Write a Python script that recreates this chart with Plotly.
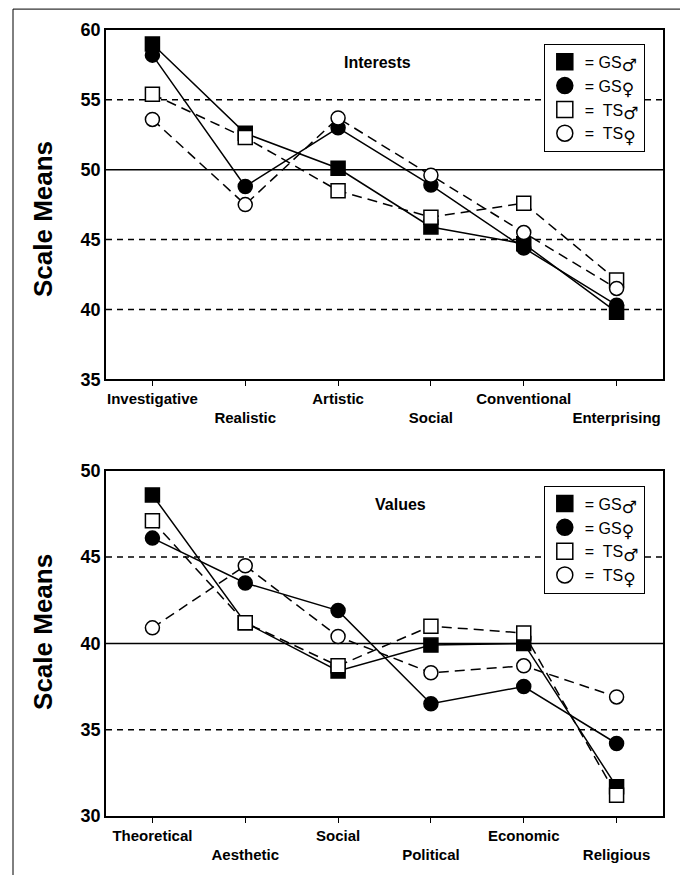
import plotly.graph_objects as go

# ---------------- data ----------------
interest_cats = ["Investigative", "Realistic", "Artistic", "Social", "Conventional", "Enterprising"]
int_gs_m = [59.0, 52.6, 50.1, 45.9, 44.7, 39.8]
int_gs_f = [58.2, 48.8, 53.0, 48.9, 44.4, 40.3]
int_ts_m = [55.4, 52.3, 48.5, 46.6, 47.6, 42.1]
int_ts_f = [53.6, 47.5, 53.7, 49.6, 45.5, 41.5]

value_cats = ["Theoretical", "Aesthetic", "Social", "Political", "Economic", "Religious"]
val_gs_m = [48.6, 41.2, 38.4, 39.9, 40.0, 31.7]
val_gs_f = [46.1, 43.5, 41.9, 36.5, 37.5, 34.2]
val_ts_m = [47.1, 41.2, 38.7, 41.0, 40.6, 31.2]
val_ts_f = [40.9, 44.5, 40.4, 38.3, 38.7, 36.9]

SYM = "<sub><span style='font-family:DejaVu Sans;font-size:17px'>{}</span></sub>"
series_names = ["= GS" + SYM.format("♂"), "= GS" + SYM.format("♀"),
                "=\u00a0 TS" + SYM.format("♂"), "=\u00a0 TS" + SYM.format("♀")]
interest_ticks = [35, 40, 45, 50, 55, 60]
value_ticks = [30, 35, 40, 45, 50]
interest_dashed = [55, 45, 40]
interest_solid = [50]
value_dashed = [45, 35]
value_solid = [40]

FONT = "Liberation Sans, Arial, Helvetica, sans-serif"

styles = [
    dict(symbol="square", fill="black", dash="solid"),
    dict(symbol="circle", fill="black", dash="solid"),
    dict(symbol="square", fill="white", dash="10px,6px"),
    dict(symbol="circle", fill="white", dash="10px,6px"),
]

fig = go.Figure()

def add_panel(cats, series, xa, ya, legend):
    for name, vals, st in zip(series_names, series, styles):
        fig.add_trace(go.Scatter(
            x=cats, y=vals, mode="lines+markers", xaxis=xa, yaxis=ya,
            line=dict(color="black", width=1.5, dash=st["dash"]),
            marker=dict(symbol=st["symbol"], size=14, color=st["fill"],
                        line=dict(color="black", width=1.5)),
            showlegend=False, cliponaxis=False,
        ))
    for name, st in zip(series_names, styles):
        fig.add_trace(go.Scatter(
            x=[None], y=[None], mode="markers", xaxis=xa, yaxis=ya, name=name,
            marker=dict(symbol=st["symbol"], size=16, color=st["fill"],
                        line=dict(color="black", width=1.5)),
            showlegend=True, legend=legend,
        ))

add_panel(interest_cats, [int_gs_m, int_gs_f, int_ts_m, int_ts_f], "x", "y", "legend")
add_panel(value_cats, [val_gs_m, val_gs_f, val_ts_m, val_ts_f], "x2", "y2", "legend2")

def ticktext(cats):
    return [c if i % 2 == 0 else "<br>" + c for i, c in enumerate(cats)]

xcommon = dict(type="category", range=[-0.5, 5.5], showline=True, linecolor="black",
               linewidth=1.5, mirror=True, ticks="outside", ticklen=5, tickcolor="black",
               tickwidth=1, showgrid=False, zeroline=False, tickangle=0,
               tickfont=dict(family=FONT, size=15, color="black", weight="bold"))
ycommon = dict(showline=True, linecolor="black", linewidth=1.5, mirror=True,
               ticks="", showgrid=False, zeroline=False,
               tickfont=dict(family=FONT, size=18, color="black", weight="bold"))

top_dom = [0.5557, 1.0]
bot_dom = [0.0, 0.4392]

# page has an 8px body margin: figure is 680x867, plot area at page (106..663, 30..820)
fig.update_layout(
    width=680, height=867,
    margin=dict(l=98, r=25, t=22, b=55),
    paper_bgcolor="white", plot_bgcolor="white",
    font=dict(family=FONT, color="black"),
    xaxis=dict(xcommon, domain=[0, 1], anchor="y", tickvals=interest_cats,
               ticktext=ticktext(interest_cats)),
    yaxis=dict(ycommon, domain=top_dom, anchor="x", range=[35, 60], tickvals=interest_ticks),
    xaxis2=dict(xcommon, domain=[0, 1], anchor="y2", tickvals=value_cats,
                ticktext=ticktext(value_cats)),
    yaxis2=dict(ycommon, domain=bot_dom, anchor="x2", range=[30, 50], tickvals=value_ticks),
    legend=dict(x=0.786, y=0.9823, xanchor="left", yanchor="top", bgcolor="white",
                bordercolor="black", borderwidth=1,
                font=dict(family=FONT, size=16, color="black"), tracegroupgap=0),
    legend2=dict(x=0.786, y=0.4203, xanchor="left", yanchor="top", bgcolor="white",
                 bordercolor="black", borderwidth=1,
                 font=dict(family=FONT, size=16, color="black"), tracegroupgap=0),
)

def hline(xref, yref, v, dash):
    fig.add_shape(type="line", xref=xref, yref=yref, x0=0, x1=1, y0=v, y1=v,
                  line=dict(color="black", width=1.5, dash=dash), layer="below")

for v in interest_dashed:
    hline("x domain", "y", v, "6px,5px")
for v in interest_solid:
    hline("x domain", "y", v, "solid")
for v in value_dashed:
    hline("x2 domain", "y2", v, "6px,5px")
for v in value_solid:
    hline("x2 domain", "y2", v, "solid")

TITLE_FONT = dict(family=FONT, size=26, color="black", weight="bold")
fig.add_annotation(text="Scale Means", xref="paper", yref="paper", x=(43 - 106) / 557,
                   y=(820 - 220) / 790, textangle=-90, showarrow=False,
                   xanchor="center", yanchor="middle", font=TITLE_FONT)
fig.add_annotation(text="Scale Means", xref="paper", yref="paper", x=(43 - 106) / 557,
                   y=(820 - 635) / 790, textangle=-90, showarrow=False,
                   xanchor="center", yanchor="middle", font=TITLE_FONT)

fig.add_annotation(text="Interests", xref="paper", yref="paper", x=0.487, y=0.959,
                   xanchor="center", yanchor="middle", showarrow=False,
                   font=dict(family=FONT, size=16, color="black", weight="bold"))
fig.add_annotation(text="Values", xref="paper", yref="paper", x=0.528, y=0.396,
                   xanchor="center", yanchor="middle", showarrow=False,
                   font=dict(family=FONT, size=16, color="black", weight="bold"))

# outer frame of the figure (bottom edge falls below the page)
fig.add_shape(type="rect", xref="paper", yref="paper",
              x0=(13 - 106) / 557, x1=(683 - 106) / 557,
              y0=-0.15, y1=(820 - 9) / 790,
              line=dict(color="black", width=1), fillcolor="rgba(0,0,0,0)", layer="below")

fig.write_html("out.html")
